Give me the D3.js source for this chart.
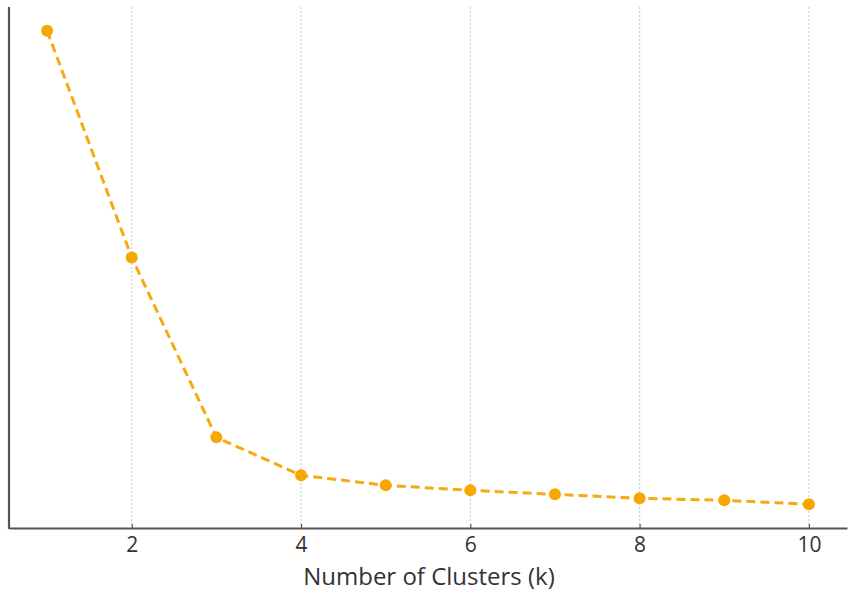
<!DOCTYPE html>
<html>
<head>
<meta charset="utf-8">
<script src="https://cdn.jsdelivr.net/npm/d3@7"></script>
<style>
  html, body { margin: 0; padding: 0; background: #fff; }
  svg { display: block; }
</style>
</head>
<body>
<svg id="chart" width="851" height="595"></svg>
<script>
const kValues = [1, 2, 3, 4, 5, 6, 7, 8, 9, 10];
const inertia = [2470, 1335, 435, 245, 195, 170, 150, 130, 120, 100];
const xTicks = [2, 4, 6, 8, 10];
const xLabel = "Number of Clusters (k)";

(function () {
const svg = d3.select("#chart");
const mLeft = 9, mRight = 847, mTop = 7, mBottom = 528;

const xPad = (10 - 1) * 0.05;
const x = d3.scaleLinear().domain([1 - xPad, 10 + xPad]).range([mLeft, mRight]);
const yMin = d3.min(inertia), yMax = d3.max(inertia);
const yPad = (yMax - yMin) * 0.05;
const y = d3.scaleLinear().domain([yMin - yPad, yMax + yPad]).range([mBottom, mTop]);

// vertical grid
svg.append("g").selectAll("line").data(xTicks).join("line")
  .attr("x1", d => x(d)).attr("x2", d => x(d))
  .attr("y1", mTop).attr("y2", mBottom)
  .attr("stroke", "#d0d0d0").attr("stroke-width", 1.2)
  .attr("stroke-dasharray", "2,2");

// line
const line = d3.line().x((d, i) => x(kValues[i])).y(d => y(d));
svg.append("path").datum(inertia)
  .attr("d", line)
  .attr("fill", "none")
  .attr("stroke", "#f6aa12")
  .attr("stroke-width", 3)
  .attr("stroke-dasharray", "9,5");

svg.append("g").selectAll("circle").data(inertia).join("circle")
  .attr("cx", (d, i) => x(kValues[i]))
  .attr("cy", d => y(d))
  .attr("r", 6)
  .attr("fill", "#f6a800");

// x axis
const xAxis = d3.axisBottom(x).tickValues(xTicks).tickSizeInner(-4).tickSizeOuter(0).tickPadding(9);
const gx = svg.append("g").attr("transform", `translate(0,${mBottom})`).call(xAxis);
gx.select(".domain").attr("stroke", "#555").attr("stroke-width", 2.2);
gx.selectAll(".tick line").attr("stroke", "#555").attr("stroke-width", 1.2);
gx.selectAll(".tick text")
  .attr("font-family", "Open Sans, DejaVu Sans, sans-serif")
  .attr("font-size", 21)
  .attr("fill", "#333");

// left spine
svg.append("line")
  .attr("x1", mLeft).attr("x2", mLeft)
  .attr("y1", mTop).attr("y2", mBottom + 1)
  .attr("stroke", "#555").attr("stroke-width", 2.2);

// x label
svg.append("text")
  .attr("x", (mLeft + mRight) / 2 + 1)
  .attr("y", 585)
  .attr("text-anchor", "middle")
  .attr("font-family", "Open Sans, DejaVu Sans, sans-serif")
  .attr("font-size", 24)
  .attr("fill", "#333")
  .text(xLabel);
})();
</script>
</body>
</html>
